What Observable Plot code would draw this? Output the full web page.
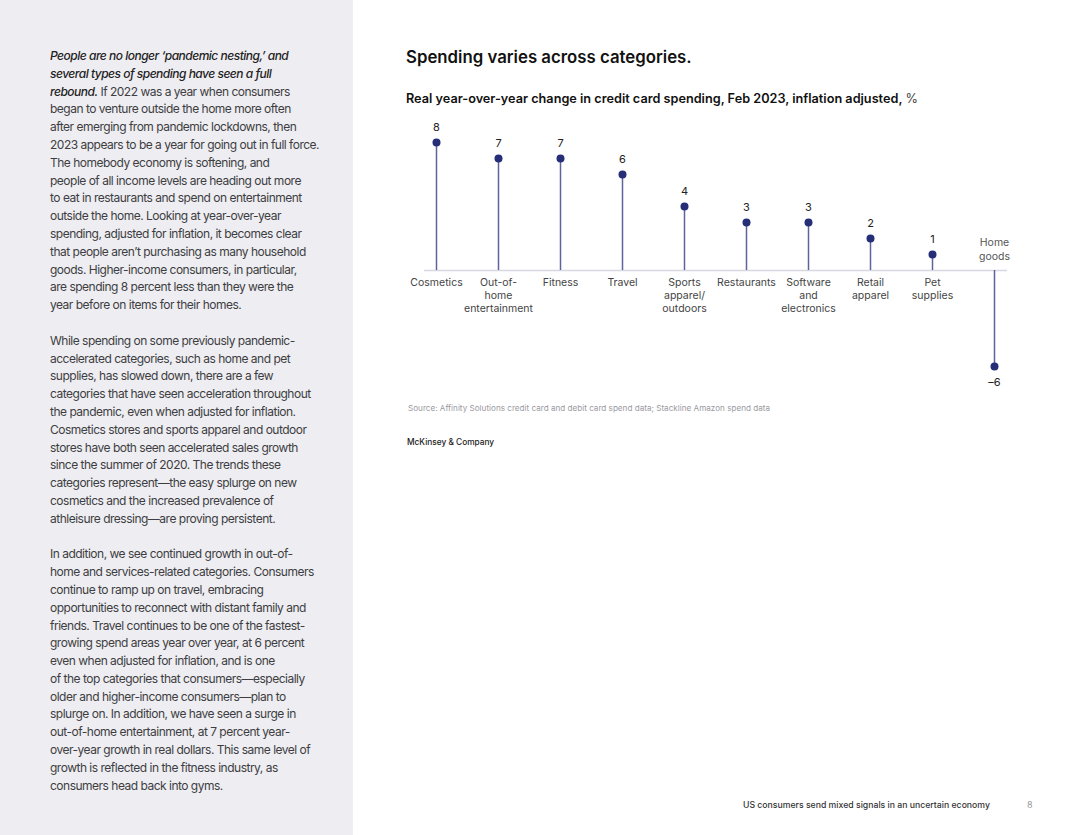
<!DOCTYPE html>
<html>
<head>
<meta charset="utf-8">
<script src="https://cdn.jsdelivr.net/npm/d3@7"></script>
<script src="https://cdn.jsdelivr.net/npm/@observablehq/plot@0.6"></script>
<style>
  html, body { margin: 0; padding: 0; background: #fff; }
  body { width: 1080px; height: 835px; position: relative; overflow: hidden; font-family: Inter, "Noto Sans", sans-serif; }
  #panel { position: absolute; left: 0; top: 0; width: 353px; height: 835px; background: #eeedf1; }
  #body { position: absolute; left: 50px; top: 47px; font-size: 12px; line-height: 17.8px; color: #3d3d42; white-space: nowrap; letter-spacing: -0.5px; }
  #body p { margin: 0 0 17.8px 0; }
  #body em { font-style: italic; font-weight: 500; color: #222; }
  #title { position: absolute; left: 406px; top: 47px; font-size: 16.8px; font-weight: 600; color: #111; }
  #subtitle { position: absolute; left: 406px; top: 91px; font-size: 12.7px; font-weight: 600; color: #111; }
  #subtitle span { font-weight: 400; color: #444; }
  #chart { position: absolute; left: 395px; top: 110px; }
  #source { position: absolute; left: 408px; top: 403px; font-size: 8.15px; color: #9a9a9f; }
  #brand { position: absolute; left: 407px; top: 437px; font-size: 8.3px; font-weight: 500; color: #222; }
  #footer { position: absolute; left: 743px; top: 800px; font-size: 8.7px; font-weight: 500; color: #333; }
  #pagenum { position: absolute; left: 1027px; top: 799px; font-size: 9px; color: #999; }
</style>
</head>
<body>
<div id="panel"></div>
<div id="body">
<p><em>People are no longer ‘pandemic nesting,’ and<br>several types of spending have seen a full<br>rebound.</em> If 2022 was a year when consumers<br>began to venture outside the home more often<br>after emerging from pandemic lockdowns, then<br>2023 appears to be a year for going out in full force.<br>The homebody economy is softening, and<br>people of all income levels are heading out more<br>to eat in restaurants and spend on entertainment<br>outside the home. Looking at year-over-year<br>spending, adjusted for inflation, it becomes clear<br>that people aren’t purchasing as many household<br>goods. Higher-income consumers, in particular,<br>are spending 8 percent less than they were the<br>year before on items for their homes.</p>
<p>While spending on some previously pandemic-<br>accelerated categories, such as home and pet<br>supplies, has slowed down, there are a few<br>categories that have seen acceleration throughout<br>the pandemic, even when adjusted for inflation.<br>Cosmetics stores and sports apparel and outdoor<br>stores have both seen accelerated sales growth<br>since the summer of 2020. The trends these<br>categories represent—the easy splurge on new<br>cosmetics and the increased prevalence of<br>athleisure dressing—are proving persistent.</p>
<p>In addition, we see continued growth in out-of-<br>home and services-related categories. Consumers<br>continue to ramp up on travel, embracing<br>opportunities to reconnect with distant family and<br>friends. Travel continues to be one of the fastest-<br>growing spend areas year over year, at 6 percent<br>even when adjusted for inflation, and is one<br>of the top categories that consumers—especially<br>older and higher-income consumers—plan to<br>splurge on. In addition, we have seen a surge in<br>out-of-home entertainment, at 7 percent year-<br>over-year growth in real dollars. This same level of<br>growth is reflected in the fitness industry, as<br>consumers head back into gyms.</p>
</div>
<div id="title">Spending varies across categories.</div>
<div id="subtitle">Real year-over-year change in credit card spending, Feb 2023, inflation adjusted, <span>%</span></div>
<div id="chart"></div>
<div id="source">Source: Affinity Solutions credit card and debit card spend data; Stackline Amazon spend data</div>
<div id="brand">McKinsey &amp; Company</div>
<div id="footer">US consumers send mixed signals in an uncertain economy</div>
<div id="pagenum">8</div>
<script>
const categories = ["Cosmetics", "Out-of-\nhome\nentertainment", "Fitness", "Travel", "Sports\napparel/\noutdoors", "Restaurants", "Software\nand\nelectronics", "Retail\napparel", "Pet\nsupplies", "Home\ngoods"];
const values = [8, 7, 7, 6, 4, 3, 3, 2, 1, -6];
const valueLabels = ["8", "7", "7", "6", "4", "3", "3", "2", "1", "–6"];

const data = categories.map((c, i) => ({category: c, value: values[i], label: valueLabels[i]}));
const pos = data.filter(d => d.value >= 0);
const neg = data.filter(d => d.value < 0);

const chart = Plot.plot({
  width: 640,
  height: 290,
  marginLeft: 39,
  marginRight: 39,
  marginTop: 16,
  marginBottom: 18,
  x: {type: "point", domain: categories, padding: 0, axis: null},
  y: {domain: [-7, 9], axis: null},
  style: {fontFamily: "Inter, 'Noto Sans', sans-serif", background: "transparent", overflow: "visible"},
  marks: [
    Plot.ruleY([0], {stroke: "#d8d8e4", strokeWidth: 1.5, insetLeft: -10, insetRight: -11}),
    Plot.ruleX(data, {x: "category", y1: 0, y2: "value", stroke: "#5f639c", strokeWidth: 1.5}),
    Plot.dot(data, {x: "category", y: "value", r: 4, fill: "#262e78", stroke: "none"}),
    Plot.text(pos, {x: "category", y: "value", text: "label", dy: -15, fontSize: 11, fill: "#222"}),
    Plot.text(neg, {x: "category", y: "value", text: "label", dy: 16, fontSize: 11, fill: "#222"}),
    Plot.text(pos, {x: "category", y: 0, text: "category", lineAnchor: "top", dy: 6, fontSize: 10.5, lineHeight: 1.25, fill: "#444"}),
    Plot.text(neg, {x: "category", y: 0, text: "category", lineAnchor: "bottom", dy: -11, fontSize: 10.5, lineHeight: 1.25, fill: "#555"})
  ]
});
document.getElementById("chart").appendChild(chart);
</script>
</body>
</html>
